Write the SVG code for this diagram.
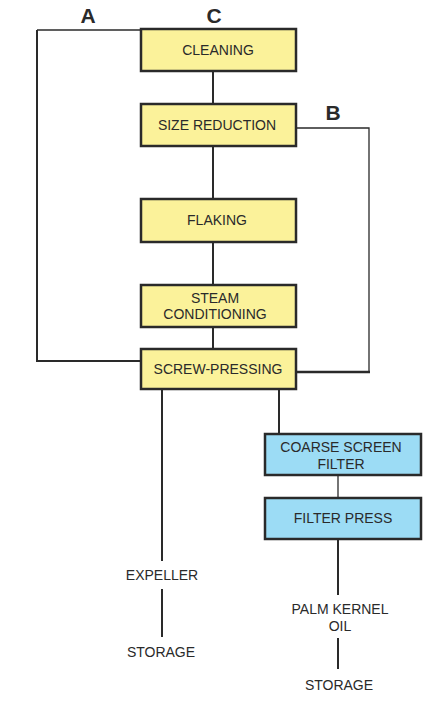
<svg xmlns="http://www.w3.org/2000/svg" width="446" height="701" viewBox="0 0 446 701">
<style>
.y{fill:#FBF29A;stroke:#2a2a2a;stroke-width:2.5}
.b{fill:#9CDCF5;stroke:#2a2a2a;stroke-width:2.5}
.t{font-family:"Liberation Sans",Arial,sans-serif;font-size:14px;fill:#2a2a2a;text-anchor:middle}
.l{font-family:"Liberation Sans",Arial,sans-serif;font-size:21px;font-weight:bold;fill:#2a2a2a;text-anchor:middle}
.c{fill:none;stroke:#2a2a2a;stroke-width:2}
.th{fill:none;stroke:#2a2a2a;stroke-width:1.3}
.tk{fill:none;stroke:#2a2a2a;stroke-width:2.6}
</style>
<rect width="446" height="701" fill="#fff"/>
<g id="connectors">
<polyline class="th" points="141,30 37,30"/>
<polyline class="c" points="37,30 37,361 141,361"/>
<line class="c" x1="213" y1="71" x2="213" y2="104"/>
<line class="c" x1="213" y1="146" x2="213" y2="199"/>
<line class="c" x1="213" y1="242" x2="213" y2="285"/>
<line class="c" x1="213" y1="327" x2="213" y2="349"/>
<polyline class="th" points="296,128 369,128 369,372"/>
<line class="tk" x1="296" y1="372" x2="370" y2="372"/>
<line class="c" x1="162" y1="389" x2="162" y2="561"/>
<line class="c" x1="162" y1="589" x2="162" y2="637"/>
<line class="c" x1="279" y1="389" x2="279" y2="434"/>
<line class="th" x1="338" y1="475" x2="338" y2="498"/>
<line class="c" x1="338" y1="539" x2="338" y2="595"/>
<line class="c" x1="338" y1="638" x2="338" y2="669"/>
</g>
<g id="labels">
<text class="l" x="88" y="23">A</text>
<text class="l" x="214" y="23">C</text>
<text class="l" x="333" y="120">B</text>
</g>
<g id="cleaning"><rect class="y" x="141" y="29" width="155" height="42"/><text class="t" x="218" y="55">CLEANING</text></g>
<g id="size-reduction"><rect class="y" x="141" y="104" width="155" height="42"/><text class="t" x="217" y="130">SIZE REDUCTION</text></g>
<g id="flaking"><rect class="y" x="141" y="199" width="155" height="43"/><text class="t" x="217" y="225">FLAKING</text></g>
<g id="steam-conditioning"><rect class="y" x="141" y="285" width="155" height="42"/><text class="t" x="215" y="303">STEAM</text><text class="t" x="215" y="319">CONDITIONING</text></g>
<g id="screw-pressing"><rect class="y" x="141" y="349" width="155" height="40"/><text class="t" x="218" y="374">SCREW-PRESSING</text></g>
<g id="coarse-screen-filter"><rect class="b" x="265" y="434" width="156" height="41"/><text class="t" x="341" y="452">COARSE SCREEN</text><text class="t" x="341" y="469">FILTER</text></g>
<g id="filter-press"><rect class="b" x="265" y="498" width="156" height="41"/><text class="t" x="343" y="523">FILTER PRESS</text></g>
<g id="expeller"><text class="t" x="162" y="580">EXPELLER</text></g>
<g id="storage-1"><text class="t" x="161" y="657">STORAGE</text></g>
<g id="palm-kernel-oil"><text class="t" x="340" y="614">PALM KERNEL</text><text class="t" x="340" y="631">OIL</text></g>
<g id="storage-2"><text class="t" x="339" y="690">STORAGE</text></g>
</svg>
